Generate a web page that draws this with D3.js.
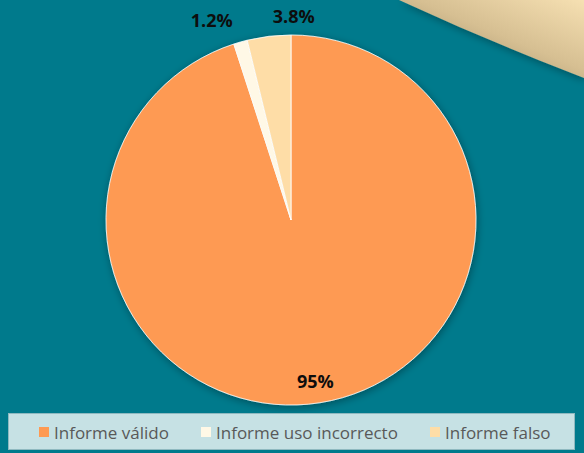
<!DOCTYPE html>
<html>
<head>
<meta charset="utf-8">
<script src="https://cdn.jsdelivr.net/npm/d3@7"></script>
<style>
  body { margin: 0; background: #007a8c; }
  svg { display: block; }
</style>
</head>
<body>
<div id="chart"></div>
<script>
var svgWidth = 584;
var svgHeight = 453;

// chart values
var categories = ["Informe válido", "Informe uso incorrecto", "Informe falso"];
var values = [95, 1.2, 3.8];
var valueLabels = ["95%", "1.2%", "3.8%"];
var colors = ["#fe9a52", "#fff8e6", "#fedda7"];

var svg = d3.select("#chart")
  .append("svg")
  .attr("width", svgWidth)
  .attr("height", svgHeight);

var defs = svg.append("defs");

var grad = defs.append("linearGradient")
  .attr("id", "cornerGrad")
  .attr("x1", "0%").attr("y1", "100%")
  .attr("x2", "100%").attr("y2", "0%");
grad.append("stop").attr("offset", "0%").attr("stop-color", "#8e7d5c");
grad.append("stop").attr("offset", "55%").attr("stop-color", "#d6bf92");
grad.append("stop").attr("offset", "100%").attr("stop-color", "#f6e0b2");

var shadow = defs.append("filter")
  .attr("id", "shadow")
  .attr("x", "-20%").attr("y", "-20%")
  .attr("width", "140%").attr("height", "140%");
shadow.append("feGaussianBlur").attr("in", "SourceAlpha").attr("stdDeviation", 4);
shadow.append("feOffset").attr("dx", 1).attr("dy", 2).attr("result", "blur");
shadow.append("feComponentTransfer").append("feFuncA").attr("type", "linear").attr("slope", 0.35);
var merge = shadow.append("feMerge");
merge.append("feMergeNode");
merge.append("feMergeNode").attr("in", "SourceGraphic");

// background
svg.append("rect")
  .attr("width", svgWidth)
  .attr("height", svgHeight)
  .attr("fill", "#007a8c");

// decorative corner swoosh
svg.append("path")
  .attr("d", "M399,0 Q490,42 584,78 L584,0 Z")
  .attr("fill", "url(#cornerGrad)")
  .attr("filter", "url(#shadow)");

// pie
var cx = 291, cy = 220, radius = 185;

var pie = d3.pie()
  .sort(null)
  .value(d => d);

var arc = d3.arc()
  .innerRadius(0)
  .outerRadius(radius);

var pieGroup = svg.append("g")
  .attr("transform", `translate(${cx}, ${cy})`)
  .attr("filter", "url(#shadow)");

var arcs = pie(values);

pieGroup.selectAll("path")
  .data(arcs)
  .enter()
  .append("path")
  .attr("d", arc)
  .attr("fill", (d, i) => colors[i])
  .attr("stroke", "#ffffff")
  .attr("stroke-width", 0.8);

// data labels: inside for the big slice, outside for the small ones
var labelRadius = [163, 215, 204];
var labelShift = [0.4, -5.8, 7.6]; // degrees

function labelAngle(d, i) {
  return (d.startAngle + d.endAngle) / 2 + labelShift[i] * Math.PI / 180;
}

svg.append("g")
  .attr("transform", `translate(${cx}, ${cy})`)
  .selectAll("text")
  .data(arcs)
  .enter()
  .append("text")
  .attr("x", (d, i) => labelRadius[i] * Math.sin(labelAngle(d, i)))
  .attr("y", (d, i) => -labelRadius[i] * Math.cos(labelAngle(d, i)))
  .attr("text-anchor", "middle")
  .attr("dominant-baseline", "central")
  .style("font-family", "'Open Sans', sans-serif")
  .style("font-weight", "bold")
  .style("font-size", "18px")
  .attr("fill", "#0d0d0d")
  .text((d, i) => valueLabels[i]);

// legend
var legend = svg.append("g");

legend.append("rect")
  .attr("x", 8.5)
  .attr("y", 413.5)
  .attr("width", 566)
  .attr("height", 36)
  .attr("fill", "#c6e1e4")
  .attr("stroke", "#8fb9c0")
  .attr("stroke-width", 1);

var legendX = [39, 201, 430];

var items = legend.selectAll("g.item")
  .data(categories)
  .enter()
  .append("g")
  .attr("class", "item")
  .attr("transform", (d, i) => `translate(${legendX[i]}, 432)`);

items.append("rect")
  .attr("x", 0)
  .attr("y", -5)
  .attr("width", 10)
  .attr("height", 10)
  .attr("fill", (d, i) => colors[i]);

items.append("text")
  .attr("x", 15)
  .attr("y", 0)
  .attr("dominant-baseline", "central")
  .style("font-family", "'Open Sans', sans-serif")
  .style("font-size", "17px")
  .attr("fill", "#595959")
  .text(d => d);
</script>
</body>
</html>
